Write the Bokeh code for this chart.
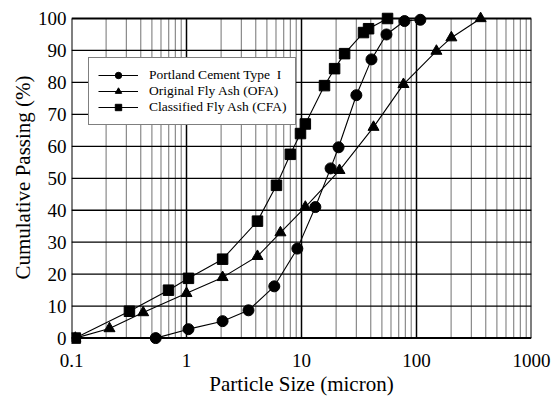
from bokeh.plotting import figure
from bokeh.models import FixedTicker, CustomJSTickFormatter, Range1d, ColumnDataSource
from bokeh.embed import file_html
from bokeh.resources import INLINE

# ---- data ----
pc_size = [0.54, 1.04, 2.06, 3.46, 5.8, 9.2, 13.2, 17.9, 21.0, 30.0, 40.6, 54.8, 78.7, 108.0]
pc_pass = [0, 2.8, 5.3, 8.7, 16.2, 28, 41, 53.1, 59.7, 76, 87.2, 95, 99.2, 99.6]

ofa_size = [0.108, 0.214, 0.42, 1.0, 2.06, 4.14, 6.56, 10.8, 21.4, 42.3, 77.0, 149.0, 201.0, 361.0]
ofa_pass = [0, 3, 8, 14, 19, 25.6, 33, 41, 52.5, 66, 79.4, 89.8, 94, 100]

cfa_size = [0.108, 0.319, 0.697, 1.04, 2.06, 4.14, 6.06, 8.0, 9.8, 10.8, 15.85, 19.4, 23.7, 34.6, 38.3, 56.0]
cfa_pass = [0, 8.4, 15, 18.7, 24.7, 36.6, 47.8, 57.5, 64, 67, 79, 84.3, 89, 95.6, 96.8, 100]

x_major = [0.1, 1, 10, 100, 1000]
x_minor = [m * 10.0 ** k for k in range(-1, 3) for m in range(2, 10)]
y_ticks = [0, 10, 20, 30, 40, 50, 60, 70, 80, 90, 100]

FONT = "Liberation Serif"

p = figure(width=556, height=398, x_axis_type="log",
           x_range=Range1d(x_major[0], x_major[-1]),
           y_range=Range1d(y_ticks[0] - 2, y_ticks[-1] + 2.5),
           output_backend="svg", toolbar_location=None,
           min_border_left=71, min_border_right=25, min_border_top=10, min_border_bottom=54)
p.outline_line_color = None
p.xgrid.visible = False
p.ygrid.visible = False
p.background_fill_color = "white"
p.border_fill_color = "white"

# grid drawn as segments bounded to the data box
ymin, ymax = y_ticks[0], y_ticks[-1]
xmin, xmax = x_major[0], x_major[-1]
p.segment(x0=x_minor, x1=x_minor, y0=[ymin] * len(x_minor), y1=[ymax] * len(x_minor),
          line_color="#8a8a8a", line_width=1.2)
inner_major = x_major[1:-1]
p.segment(x0=inner_major, x1=inner_major, y0=[ymin] * len(inner_major), y1=[ymax] * len(inner_major),
          line_color="black", line_width=1.5)
inner_y = y_ticks[1:-1]
p.segment(x0=[xmin] * len(inner_y), x1=[xmax] * len(inner_y), y0=inner_y, y1=inner_y,
          line_color="black", line_width=1.3)
# box
p.segment(x0=[xmin, xmax], x1=[xmin, xmax], y0=[ymin, ymin], y1=[ymax, ymax],
          line_color="black", line_width=2)
p.segment(x0=[xmin, xmin], x1=[xmax, xmax], y0=[ymin, ymax], y1=[ymin, ymax],
          line_color="black", line_width=2)

series = [
    ("Portland Cement Type\u00a0 I", pc_size, pc_pass, "circle", 11),
    ("Original Fly Ash (OFA)", ofa_size, ofa_pass, "triangle", 11),
    ("Classified Fly Ash (CFA)", cfa_size, cfa_pass, "square", 10.5),
]
for label, xs, ys, marker, size in series:
    src = ColumnDataSource(dict(x=xs, y=ys))
    p.line("x", "y", source=src, line_color="black", line_width=1.1, legend_label=label)
    p.scatter("x", "y", source=src, marker=marker, size=size, fill_color="black",
              line_color="black", legend_label=label)

# axes
p.xaxis.ticker = FixedTicker(ticks=x_major, minor_ticks=[])
p.xaxis.formatter = CustomJSTickFormatter(code="return tick.toString();")
p.yaxis.ticker = FixedTicker(ticks=y_ticks, minor_ticks=[])
for ax in (p.xaxis[0], p.yaxis[0]):
    ax.axis_line_color = None
    ax.major_tick_line_color = None
    ax.minor_tick_line_color = None
    ax.major_tick_out = 0
    ax.major_tick_in = 0
    ax.minor_tick_out = 0
    ax.minor_tick_in = 0
    ax.major_label_text_font = FONT
    ax.major_label_text_font_size = "19px"
    ax.major_label_text_color = "black"
    ax.axis_label_text_font = FONT
    ax.axis_label_text_font_size = "21px"
    ax.axis_label_text_font_style = "normal"
    ax.axis_label_text_color = "black"
p.xaxis.axis_label = "Particle Size (micron)"
p.yaxis.axis_label = "Cumulative Passing (%)"
p.xaxis.major_label_standoff = 9
p.xaxis.axis_label_standoff = 2
p.yaxis.major_label_standoff = 5
p.yaxis.axis_label_standoff = 0

# legend
lg = p.legend[0]
lg.location = (17, 219)
lg.label_text_font = FONT
lg.label_text_font_size = "13.5px"
lg.label_text_color = "black"
lg.border_line_color = "black"
lg.border_line_width = 1
lg.padding = 9
lg.spacing = 0
lg.margin = 0
lg.label_height = 16
lg.glyph_height = 16
lg.glyph_width = 40
lg.label_standoff = 11
lg.background_fill_alpha = 1

open("out.html", "w").write(file_html(p, INLINE))
